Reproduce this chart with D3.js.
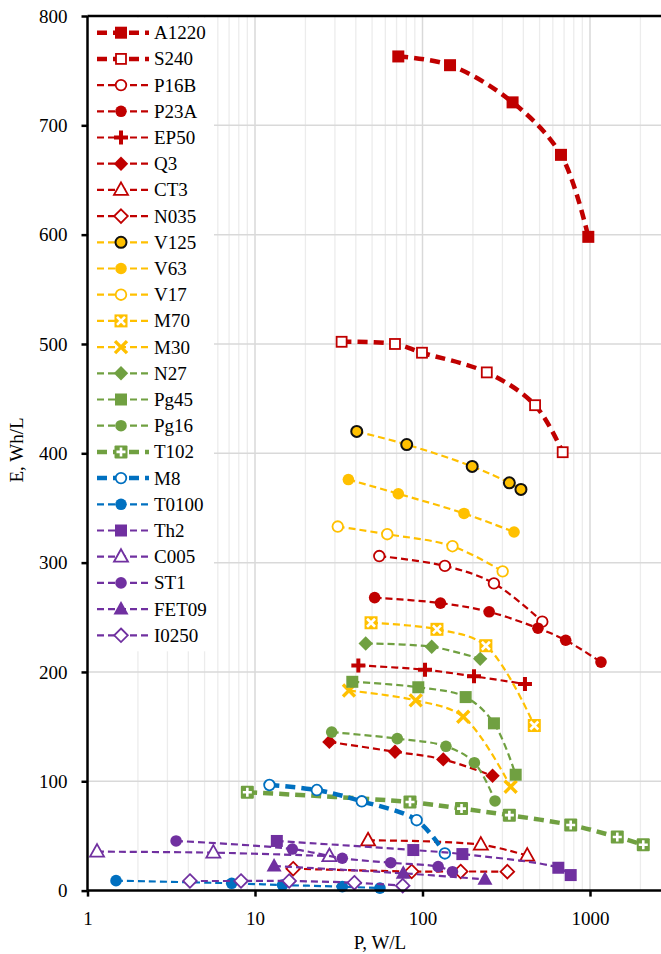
<!DOCTYPE html>
<html><head><meta charset="utf-8">
<script src="https://cdn.jsdelivr.net/npm/d3@7"></script>
<style>
html,body{margin:0;padding:0;background:#fff;}
svg{display:block;}
text{font-family:"Liberation Serif","DejaVu Serif",serif;fill:#000;}
</style></head>
<body>
<svg id="chart" width="661" height="954"></svg>
<script>
// ---------- DATA ----------
const seriesNames = ["A1220","S240","P16B","P23A","EP50","Q3","CT3","N035","V125","V63","V17","M70","M30","N27","Pg45","Pg16","T102","M8","T0100","Th2","C005","ST1","FET09","I0250"];
const xTicks = [1, 10, 100, 1000];
const yTicks = [0, 100, 200, 300, 400, 500, 600, 700, 800];

const pA1220 = [71.7, 146, 345, 671, 977];
const eA1220 = [763, 755, 721, 673, 598];
const pS240 = [32.9, 68.5, 99.3, 242, 470, 687];
const eS240 = [502, 500, 492, 474, 444, 401];
const pP16B = [55.2, 136, 267, 519];
const eP16B = [306, 297, 281, 246];
const pP23A = [51.8, 128, 250, 489, 716, 1163];
const eP23A = [268, 263, 255, 240, 229, 209];
const pEP50 = [41.4, 103.5, 203, 409];
const eEP50 = [206, 202, 196, 189];
const pQ3 = [27.8, 68.5, 133, 262];
const eQ3 = [136, 127, 120, 105];
const pCT3 = [47.3, 223, 422];
const eCT3 = [46, 42, 32];
const pN035 = [16.9, 86.2, 169, 321];
const eN035 = [20, 17.5, 17.5, 17.3];
const pV125 = [40.5, 80.5, 198, 330, 387];
const eV125 = [420, 408, 388, 373, 367];
const pV63 = [36.1, 71.7, 177, 352];
const eV63 = [376, 363, 345, 328];
const pV17 = [31.2, 61.6, 151, 301];
const eV17 = [333, 326, 315, 292];
const pM70 = [49.3, 122, 239, 465];
const eM70 = [245, 239, 224, 151];
const pM30 = [36.4, 91.1, 175, 336];
const eM30 = [183, 174, 159, 95];
const pN27 = [45.8, 113.5, 221];
const eN27 = [226, 223, 212];
const pPg45 = [38.1, 94.4, 181, 267, 360];
const ePg45 = [191, 186, 177, 153, 106];
const pPg16 = [28.7, 70.7, 138, 204, 271];
const ePg16 = [145, 139, 132, 117, 82];
const pT102 = [9.0, 84.2, 171, 330, 767, 1455, 2080];
const eT102 = [90, 81, 75, 69, 60, 49, 42];
const pM8 = [12.2, 23.4, 43.4, 92.3, 136];
const eM8 = [96.6, 92, 81.7, 64.4, 34];
const pT0100 = [1.48, 7.26, 14.6, 33.2, 55.7];
const eT0100 = [9.1, 6.7, 5.1, 3.6, 2.3];
const pTh2 = [13.5, 88.1, 173, 647, 767];
const eTh2 = [45.4, 37.1, 33.4, 20.9, 14.2];
const pC005 = [1.14, 5.64, 27.8];
const eC005 = [35.6, 34.7, 31.6];
const pST1 = [3.38, 16.7, 33.2, 64.6, 124, 151];
const eST1 = [45.4, 38, 29.6, 25.5, 21.9, 17.3];
const pFET09 = [13.0, 76.8, 236];
const eFET09 = [22.5, 15.8, 10.3];
const pI0250 = [4.09, 8.25, 16.0, 39.2, 76.2];
const eI0250 = [8.8, 8.8, 8.8, 7.2, 4.5];

const seriesP = [pA1220,pS240,pP16B,pP23A,pEP50,pQ3,pCT3,pN035,pV125,pV63,pV17,pM70,pM30,pN27,pPg45,pPg16,pT102,pM8,pT0100,pTh2,pC005,pST1,pFET09,pI0250];
const seriesE = [eA1220,eS240,eP16B,eP23A,eEP50,eQ3,eCT3,eN035,eV125,eV63,eV17,eM70,eM30,eN27,ePg45,ePg16,eT102,eM8,eT0100,eTh2,eC005,eST1,eFET09,eI0250];

// ---------- STYLES ----------
const RED = "#C00000", YEL = "#FFC000", GRN = "#70A041", BLU = "#0070C0", PUR = "#7030A0";
const FONT = '"Liberation Serif","DejaVu Serif",serif';
const seriesColor = [RED,RED,RED,RED,RED,RED,RED,RED,YEL,YEL,YEL,YEL,YEL,GRN,GRN,GRN,GRN,BLU,BLU,PUR,PUR,PUR,PUR,PUR];
const seriesMarker = ["sqF","sqO","ciO","ciF","plus","diaF","triO","diaO","ciB","ciF","ciO","sqX","x","diaF","sqF","ciF","sqP","ciO","ciF","sqF","triO","ciF","triF","diaO"];
const thick = new Set(["A1220","S240","T102","M8"]);

// ---------- LAYOUT ----------
const svg = d3.select("#chart");
const x0 = 87.5, yTop = 16, yBot = 890.6;
const x = d3.scaleLog().domain([1, 3000]).range([x0, x0 + 167.5 * Math.log10(3000)]);
const y = d3.scaleLinear().domain([0, 800]).range([yBot, yTop]);
const xRight = x(3000);

// grid
const grid = svg.append("g");
const minorVals = [];
for (let d = 1; d <= 1000; d *= 10) for (let k = 2; k <= 9; k++) if (d * k <= 3000) minorVals.push(d * k);
grid.selectAll("line.minor").data(minorVals).join("line")
  .attr("x1", d => x(d)).attr("x2", d => x(d)).attr("y1", yTop).attr("y2", yBot)
  .attr("stroke", "#ececec").attr("stroke-width", 1.3);
grid.selectAll("line.majx").data([10, 100, 1000]).join("line")
  .attr("x1", d => x(d)).attr("x2", d => x(d)).attr("y1", yTop).attr("y2", yBot)
  .attr("stroke", "#d9d9d9").attr("stroke-width", 1.5);
grid.selectAll("line.majy").data(yTicks.slice(1)).join("line")
  .attr("x1", x0).attr("x2", xRight).attr("y1", d => y(d)).attr("y2", d => y(d))
  .attr("stroke", "#d9d9d9").attr("stroke-width", 1.5);

// legend background
const legY0 = 32.7, legDy = 26.2;
svg.append("rect").attr("x", x0 + 1.5).attr("y", yTop + 2)
  .attr("width", 214 - x0 - 1.5).attr("height", legY0 + legDy * 23 + 14 - yTop)
  .attr("fill", "#fff");

// ---------- MARKERS ----------
function marker(g, type, color, cx, cy) {
  const s = g.append("g").attr("transform", `translate(${cx},${cy})`);
  switch (type) {
    case "sqF": s.append("rect").attr("x", -6).attr("y", -6).attr("width", 12).attr("height", 12).attr("fill", color); break;
    case "sqO": s.append("rect").attr("x", -5).attr("y", -5).attr("width", 10).attr("height", 10).attr("fill", "#fff").attr("stroke", color).attr("stroke-width", 1.8); break;
    case "ciF": s.append("circle").attr("r", 5.8).attr("fill", color); break;
    case "ciO": s.append("circle").attr("r", 5.3).attr("fill", "#fff").attr("stroke", color).attr("stroke-width", 1.8); break;
    case "ciB": s.append("circle").attr("r", 5.5).attr("fill", color).attr("stroke", "#111").attr("stroke-width", 2); break;
    case "plus": s.append("path").attr("d", "M-7,-2H-2V-7H2V-2H7V2H2V7H-2V2H-7Z").attr("fill", color); break;
    case "diaF": s.append("path").attr("d", "M0,-7.2L7.2,0L0,7.2L-7.2,0Z").attr("fill", color); break;
    case "diaO": s.append("path").attr("d", "M0,-6.8L6.8,0L0,6.8L-6.8,0Z").attr("fill", "#fff").attr("stroke", color).attr("stroke-width", 1.8); break;
    case "triO": s.append("path").attr("d", "M0,-7.5L7,5L-7,5Z").attr("fill", "#fff").attr("stroke", color).attr("stroke-width", 1.8); break;
    case "triF": s.append("path").attr("d", "M0,-8L7.5,5.5L-7.5,5.5Z").attr("fill", color); break;
    case "x": s.append("path").attr("d", "M-6,-6L6,6M6,-6L-6,6").attr("stroke", color).attr("stroke-width", 3.4).attr("fill", "none"); break;
    case "sqX":
      s.append("rect").attr("x", -6.5).attr("y", -6.5).attr("width", 13).attr("height", 13).attr("fill", color);
      s.append("path").attr("d", "M-4,-4L4,4M4,-4L-4,4").attr("stroke", "#fff").attr("stroke-width", 2.6); break;
    case "sqP":
      s.append("rect").attr("x", -6.5).attr("y", -6.5).attr("width", 13).attr("height", 13).attr("rx", 1).attr("fill", color);
      s.append("path").attr("d", "M-4.5,0H4.5M0,-4.5V4.5").attr("stroke", "#fff").attr("stroke-width", 2.6); break;
  }
}

// ---------- SERIES ----------
const plot = svg.append("g");
const line = d3.line().x(d => x(d[0])).y(d => y(d[1])).curve(d3.curveCatmullRom.alpha(0.5));
seriesNames.forEach((name, i) => {
  const pts = seriesP[i].map((p, j) => [p, seriesE[i][j]]);
  const th = thick.has(name);
  const g = plot.append("g");
  g.append("path").datum(pts).attr("d", line).attr("fill", "none")
    .attr("stroke", seriesColor[i]).attr("stroke-width", th ? 4.5 : 2.2)
    .attr("stroke-dasharray", th ? "10,6" : "7,4");
  pts.forEach(d => marker(g, seriesMarker[i], seriesColor[i], x(d[0]), y(d[1])));
});

// ---------- AXES ----------
const ax = svg.append("g");
ax.append("line").attr("x1", x0).attr("x2", xRight).attr("y1", yTop).attr("y2", yTop).attr("stroke", "#000").attr("stroke-width", 2.5);
const yAxis = ax.append("g").attr("transform", `translate(${x0},0)`)
  .call(d3.axisLeft(y).tickValues(yTicks).tickSize(6).tickPadding(14).tickFormat(d3.format("d")));
const xAxis = ax.append("g").attr("transform", `translate(0,${yBot})`)
  .call(d3.axisBottom(x).tickValues(xTicks).tickSize(6).tickPadding(15).tickFormat(d3.format("d")));
[yAxis, xAxis].forEach(a => {
  a.attr("font-family", FONT);
  a.select(".domain").attr("stroke", "#000").attr("stroke-width", 2.5);
  a.selectAll(".tick line").attr("stroke", "#000").attr("stroke-width", 2.5);
  a.selectAll(".tick text").attr("font-family", FONT).style("font-family", FONT).style("font-size", "19px").attr("fill", "#000");
});
yAxis.select(".domain").attr("d", `M0,${yBot}V${yTop}`);
xAxis.select(".domain").attr("d", `M${x0},0H${xRight}`);

svg.append("text").attr("x", 380).attr("y", 949).attr("text-anchor", "middle").attr("font-family", FONT).style("font-size", "19px").text("P, W/L");
svg.append("text").attr("transform", "translate(23,450) rotate(-90)").attr("text-anchor", "middle").attr("font-family", FONT).style("font-size", "19px").text("E, Wh/L");

// ---------- LEGEND ----------
const leg = svg.append("g");
seriesNames.forEach((name, i) => {
  const ly = legY0 + i * legDy;
  const th = thick.has(name);
  leg.append("line").attr("x1", 97).attr("x2", 149).attr("y1", ly).attr("y2", ly)
    .attr("stroke", seriesColor[i]).attr("stroke-width", th ? 4.5 : 2.2)
    .attr("stroke-dasharray", th ? "10,6" : "7,4");
  marker(leg, seriesMarker[i], seriesColor[i], 121, ly);
  leg.append("text").attr("x", 154).attr("y", ly + 6.5).attr("font-family", FONT).style("font-size", "19px").text(name);
});
</script>
</body></html>
